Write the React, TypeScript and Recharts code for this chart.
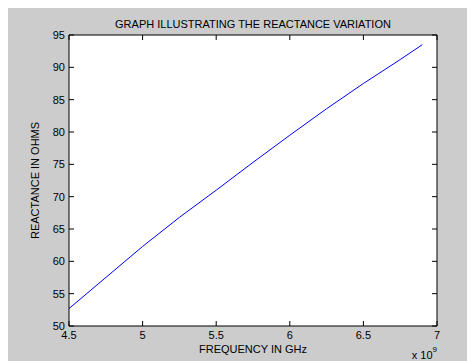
import { CartesianGrid, Line, LineChart, XAxis, YAxis } from "recharts";

// frequency in GHz (axis shows x 10^9), reactance in ohms
const frequencyGHz = [4.5, 5.0, 5.25, 5.5, 5.75, 6.0, 6.25, 6.5, 6.75, 6.9];
const reactanceOhms = [52.7, 62.3, 66.8, 71.0, 75.3, 79.5, 83.6, 87.5, 91.2, 93.5];

const xTicks = [4.5, 5, 5.5, 6, 6.5, 7];
const yTicks = [50, 55, 60, 65, 70, 75, 80, 85, 90, 95];

const data = frequencyGHz.map((f, i) => ({ freq: f, reactance: reactanceOhms[i] }));

const FONT = '"Liberation Sans", Arial, Helvetica, sans-serif';
const INK = "#000";
const TICK = 5;

function BottomTick(props: any) {
  const { x, y, payload } = props;
  return (
    <g>
      <line x1={x} y1={y} x2={x} y2={y - TICK} stroke={INK} />
      <text x={x} y={y + 13} textAnchor="middle" fontSize={11} fontFamily={FONT} fill={INK}>
        {payload.value}
      </text>
    </g>
  );
}

function TopTick(props: any) {
  const { x, y } = props;
  return <line x1={x} y1={y} x2={x} y2={y + TICK} stroke={INK} />;
}

function LeftTick(props: any) {
  const { x, y, payload } = props;
  return (
    <g>
      <line x1={x} y1={y} x2={x + TICK} y2={y} stroke={INK} />
      <text x={x - 4} y={y + 4} textAnchor="end" fontSize={11} fontFamily={FONT} fill={INK}>
        {payload.value}
      </text>
    </g>
  );
}

function RightTick(props: any) {
  const { x, y } = props;
  return <line x1={x - TICK} y1={y} x2={x} y2={y} stroke={INK} />;
}

function TitleLabel(props: any) {
  const vb = props.viewBox;
  return (
    <text x={vb.x + vb.width / 2} y={vb.y - 6} textAnchor="middle" fontSize={11} fontFamily={FONT} fill={INK}>
      GRAPH ILLUSTRATING THE REACTANCE VARIATION
    </text>
  );
}

function XLabel(props: any) {
  const vb = props.viewBox;
  return (
    <g fontFamily={FONT} fill={INK}>
      <text x={vb.x + vb.width / 2} y={vb.y + 27} textAnchor="middle" fontSize={11}>
        FREQUENCY IN GHz
      </text>
      <text x={vb.x + vb.width} y={vb.y + 33} textAnchor="end" fontSize={11}>
        x 10<tspan fontSize={8} dy={-7}>9</tspan>
      </text>
    </g>
  );
}

function YLabel(props: any) {
  const vb = props.viewBox;
  const cx = vb.x + 32;
  const cy = vb.y + vb.height / 2;
  return (
    <text
      x={cx}
      y={cy}
      transform={`rotate(-90 ${cx} ${cy})`}
      textAnchor="middle"
      fontSize={11}
      fontFamily={FONT}
      fill={INK}
    >
      REACTANCE IN OHMS
    </text>
  );
}

export default function App() {
  return (
    <div style={{ marginLeft: -1, width: 468, height: 353, background: "#cccccc" }}>
      <LineChart
        width={468}
        height={353}
        data={data}
        margin={{ top: 26, right: 37, bottom: 0, left: 0 }}
      >
        <CartesianGrid horizontal={false} vertical={false} fill="#ffffff" stroke="none" />
        <XAxis
          dataKey="freq"
          type="number"
          domain={[4.5, 7]}
          ticks={xTicks}
          interval={0}
          height={35}
          tickSize={0}
          tickMargin={0}
          tick={<BottomTick />}
          axisLine={{ stroke: INK }}
          label={<XLabel />}
        />
        <XAxis
          xAxisId="top"
          dataKey="freq"
          orientation="top"
          type="number"
          domain={[4.5, 7]}
          ticks={xTicks}
          interval={0}
          height={1}
          tickSize={0}
          tickMargin={0}
          tick={<TopTick />}
          axisLine={{ stroke: INK }}
          label={<TitleLabel />}
        />
        <YAxis
          type="number"
          domain={[50, 95]}
          ticks={yTicks}
          interval={0}
          width={62}
          tickSize={0}
          tickMargin={0}
          tick={<LeftTick />}
          axisLine={{ stroke: INK }}
          label={<YLabel />}
        />
        <YAxis
          yAxisId="right"
          orientation="right"
          type="number"
          domain={[50, 95]}
          ticks={yTicks}
          interval={0}
          width={1}
          tickSize={0}
          tickMargin={0}
          tick={<RightTick />}
          axisLine={{ stroke: INK }}
        />
        {/* invisible copy so the mirrored top/right axes have a series */}
        <Line
          xAxisId="top"
          yAxisId="right"
          type="linear"
          dataKey="reactance"
          stroke="none"
          dot={false}
          activeDot={false}
          legendType="none"
          isAnimationActive={false}
        />
        <Line
          type="linear"
          dataKey="reactance"
          stroke="#0000ff"
          strokeWidth={1}
          dot={false}
          isAnimationActive={false}
        />
      </LineChart>
    </div>
  );
}
